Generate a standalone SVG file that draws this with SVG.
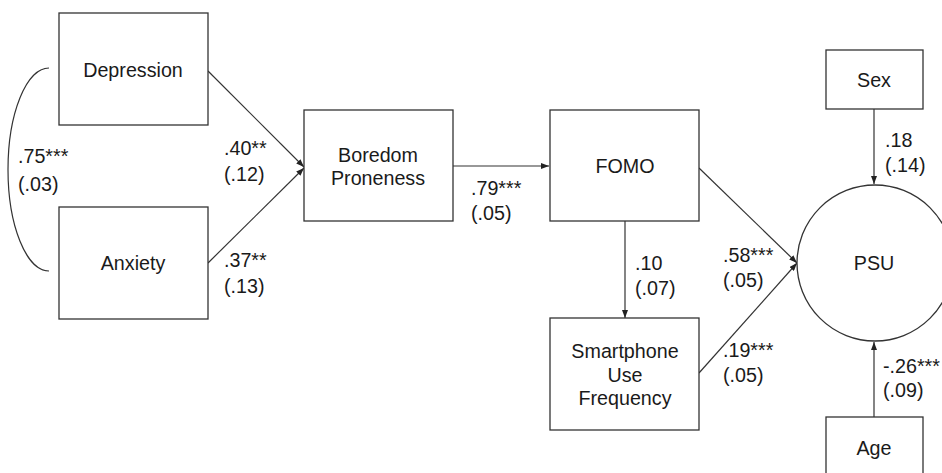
<svg xmlns="http://www.w3.org/2000/svg" width="942" height="473" viewBox="0 0 942 473">
<defs>
<marker id="ah" markerWidth="8" markerHeight="6" refX="8" refY="3" orient="auto" markerUnits="userSpaceOnUse">
<path d="M0,0 L8,3 L0,6 Z" fill="#222"/>
</marker>
<style>
.box{fill:#fff;stroke:#333;stroke-width:1.3}
.t{font-family:"Liberation Sans",Arial,sans-serif;font-size:19.7px;fill:#1a1a1a}
.c{text-anchor:middle}
.ln{stroke:#333;stroke-width:1.2;fill:none}
</style>
</defs>
<rect width="942" height="473" fill="#fff"/>
<g id="connectors">
<path class="ln" d="M49,68 A41,101.5 0 0 0 49,271"/>
<line class="ln" x1="208" y1="71" x2="304" y2="167" marker-end="url(#ah)"/>
<line class="ln" x1="208" y1="263" x2="304" y2="168" marker-end="url(#ah)"/>
<line class="ln" x1="453" y1="166" x2="549" y2="166" marker-end="url(#ah)"/>
<line class="ln" x1="625" y1="221" x2="625" y2="318" marker-end="url(#ah)"/>
<line class="ln" x1="699" y1="168" x2="797" y2="263" marker-end="url(#ah)"/>
<line class="ln" x1="699" y1="373" x2="797" y2="263" marker-end="url(#ah)"/>
<line class="ln" x1="874" y1="109" x2="874" y2="184" marker-end="url(#ah)"/>
<line class="ln" x1="874" y1="417" x2="874" y2="342" marker-end="url(#ah)"/>
</g>
<g id="labels">
<text class="t" x="18" y="163">.75***</text>
<text class="t" x="18" y="191">(.03)</text>
<text class="t" x="224" y="155">.40**</text>
<text class="t" x="224" y="181">(.12)</text>
<text class="t" x="224" y="267">.37**</text>
<text class="t" x="224" y="293">(.13)</text>
<text class="t" x="471" y="195">.79***</text>
<text class="t" x="471" y="220">(.05)</text>
<text class="t" x="635" y="270">.10</text>
<text class="t" x="635" y="295">(.07)</text>
<text class="t" x="723" y="262">.58***</text>
<text class="t" x="723" y="287">(.05)</text>
<text class="t" x="723" y="357">.19***</text>
<text class="t" x="723" y="382">(.05)</text>
<text class="t" x="885" y="147">.18</text>
<text class="t" x="885" y="172">(.14)</text>
<text class="t" x="883" y="373">-.26***</text>
<text class="t" x="883" y="397">(.09)</text>
</g>
<g id="depression">
<rect class="box" x="59" y="13" width="149" height="112"/>
<text class="t c" x="133" y="77">Depression</text>
</g>
<g id="anxiety">
<rect class="box" x="59" y="207" width="149" height="112"/>
<text class="t c" x="133" y="270">Anxiety</text>
</g>
<g id="boredom">
<rect class="box" x="304" y="110" width="149" height="111"/>
<text class="t c" x="378" y="162">Boredom</text>
<text class="t c" x="378" y="185">Proneness</text>
</g>
<g id="fomo">
<rect class="box" x="550" y="110" width="149" height="111"/>
<text class="t c" x="625" y="173">FOMO</text>
</g>
<g id="smartphone">
<rect class="box" x="550" y="318" width="149" height="112"/>
<text class="t c" x="625" y="358">Smartphone</text>
<text class="t c" x="625" y="382">Use</text>
<text class="t c" x="625" y="405">Frequency</text>
</g>
<g id="psu">
<circle class="box" cx="875" cy="263" r="78"/>
<text class="t c" x="874" y="270">PSU</text>
</g>
<g id="sex">
<rect class="box" x="826" y="50" width="97" height="59"/>
<text class="t c" x="874" y="87">Sex</text>
</g>
<g id="age">
<rect class="box" x="826" y="417" width="97" height="70"/>
<text class="t c" x="874" y="455">Age</text>
</g>
</svg>
